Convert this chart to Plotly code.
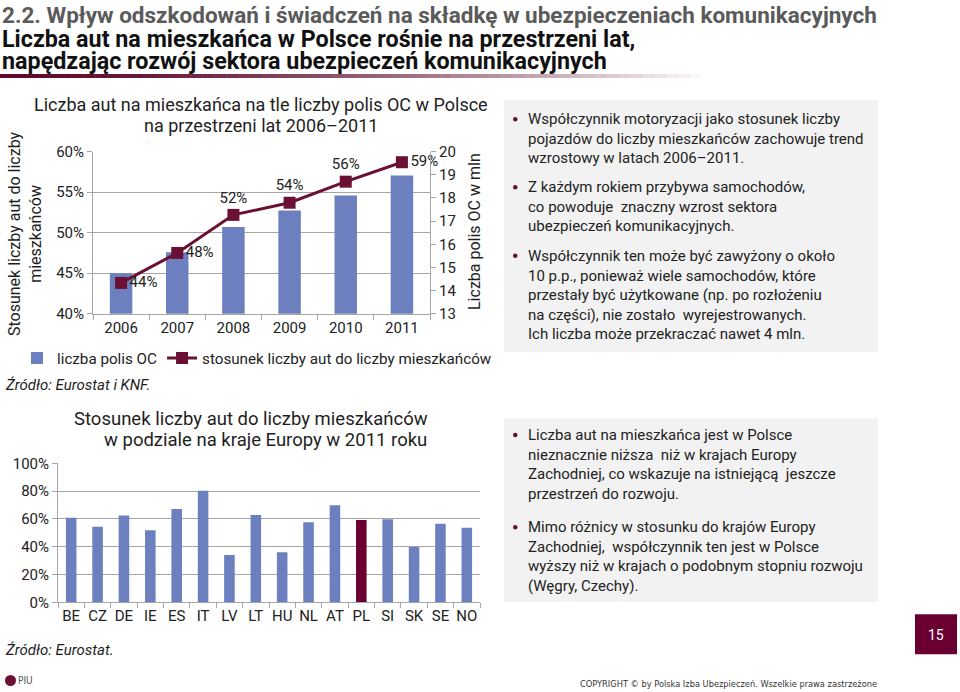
import plotly.graph_objects as go

W, H = 960, 692


def px(x):
    return x / W


def py(y):
    return 1 - y / H


# ---------------- data ----------------
years = ["2006", "2007", "2008", "2009", "2010", "2011"]
polisy_oc_mln = [14.75, 15.66, 16.75, 17.46, 18.11, 18.97]
auta_na_mieszkanca = [0.438, 0.475, 0.522, 0.537, 0.563, 0.587]
auta_labels = ["44%", "48%", "52%", "54%", "56%", "59%"]

countries = ["BE", "CZ", "DE", "IE", "ES", "IT", "LV", "LT", "HU", "NL",
             "AT", "PL", "SI", "SK", "SE", "NO"]
country_ratio = [0.609, 0.544, 0.624, 0.518, 0.671, 0.803, 0.341, 0.628,
                 0.360, 0.576, 0.698, 0.592, 0.597, 0.398, 0.566, 0.537]

left_ticks = [0.40, 0.45, 0.50, 0.55, 0.60]
right_ticks = [13, 14, 15, 16, 17, 18, 19, 20]
eu_ticks = [0, 0.2, 0.4, 0.6, 0.8, 1.0]

# ---------------- style ----------------
BLUE = "#6C7FBE"
MAROON = "#6B1035"
PL_COLOR = "#6A0032"
GRID = "#A6A6A6"
FONT = "Roboto, 'DejaVu Sans', sans-serif"
COND = "'DejaVu Sans Condensed', 'DejaVu Sans', sans-serif"
TXT = "#1E1E1E"

label_pos = ["middle right", "middle right", "top center", "top center",
             "top center", "middle right"]
bar_colors = [PL_COLOR if c == "PL" else BLUE for c in countries]

fig = go.Figure()

# chart 1: bars (right axis, base y) + line (left axis, overlay y2)
fig.add_trace(go.Bar(
    x=years, y=polisy_oc_mln, name="liczba polis OC",
    marker=dict(color=BLUE, line=dict(width=0)), width=0.4,
    xaxis="x", yaxis="y", hoverinfo="x+y"))
fig.add_trace(go.Scatter(
    x=years, y=auta_na_mieszkanca, name="stosunek liczby aut do liczby mieszkańców",
    mode="lines+markers+text", text=auta_labels, textposition=label_pos,
    textfont=dict(family=FONT, size=15, color="#222"),
    line=dict(color=MAROON, width=3),
    marker=dict(symbol="square", size=12, color=MAROON),
    cliponaxis=False, xaxis="x", yaxis="y2"))

# chart 2: countries
fig.add_trace(go.Bar(
    x=countries, y=country_ratio, marker=dict(color=bar_colors, line=dict(width=0)),
    width=0.4, showlegend=False, xaxis="x2", yaxis="y3"))

x1dom = [px(93), px(430)]
y1dom = [py(313.7), py(151.7)]
x2dom = [px(58), px(480)]
y2dom = [py(602.3), py(463.3)]

axis_common = dict(showline=True, linecolor=GRID, linewidth=1, ticks="outside",
                   tickcolor=GRID, ticklen=5, zeroline=False, automargin=False)

fig.update_layout(
    width=W, height=H,
    margin=dict(l=0, r=0, t=0, b=0, pad=0, autoexpand=False),
    paper_bgcolor="white", plot_bgcolor="rgba(0,0,0,0)",
    font=dict(family=FONT, color=TXT),
    xaxis=dict(domain=x1dom, anchor="y", type="category", tickson="boundaries",
               tickfont=dict(family=FONT, size=15, color="#222"), showgrid=False,
               tickangle=0, **axis_common),
    yaxis=dict(domain=y1dom, anchor="x", side="right", range=[13, 20],
               tickvals=right_ticks, showgrid=False,
               tickfont=dict(family=FONT, size=15, color="#222"),
               **axis_common),
    yaxis2=dict(domain=y1dom, anchor="x", overlaying="y", side="left",
                range=[0.40, 0.60], tickvals=left_ticks, tickformat=".0%",
                showgrid=True, gridcolor=GRID, gridwidth=1,
                tickfont=dict(family=FONT, size=15, color="#222"),
                **axis_common),
    xaxis2=dict(domain=x2dom, anchor="y3", type="category", tickson="boundaries",
                tickfont=dict(family=FONT, size=15, color="#222"), showgrid=False,
                tickangle=0, **axis_common),
    yaxis3=dict(domain=y2dom, anchor="x2", range=[0, 1.0], tickvals=eu_ticks,
                tickformat=".0%", showgrid=True, gridcolor=GRID, gridwidth=1,
                tickfont=dict(family=FONT, size=15, color="#222"),
                **axis_common),
    legend=dict(orientation="h", x=px(17), y=py(358), xanchor="left", yanchor="middle",
                font=dict(family=FONT, size=15.2, color="#222"), bgcolor="rgba(0,0,0,0)",
                itemwidth=30, tracegroupgap=0),
    showlegend=True,
)

ann = []
shapes = []


def text(x, y, s, size=15, color=TXT, xanchor="left", yanchor="middle",
         family=FONT, align="left", angle=0):
    ann.append(dict(x=px(x), y=py(y), xref="paper", yref="paper", text=s,
                    showarrow=False, xanchor=xanchor, yanchor=yanchor, align=align,
                    textangle=angle, borderpad=0,
                    font=dict(size=size, color=color, family=family)))


# header
text(1, 15, "<b>2.2. Wpływ odszkodowań i świadczeń na składkę w ubezpieczeniach komunikacyjnych</b>",
     size=22.5, color="#5A5A5A")
text(1, 39.5, "<b>Liczba aut na mieszkańca w Polsce rośnie na przestrzeni lat,</b>", size=23.3, color="#111")
text(1, 61, "<b>napędzając rozwój sektora ubezpieczeń komunikacyjnych</b>", size=23.3, color="#111")

# gradient underline
n = 60
x0, x1 = 0, 714
c0 = (95, 10, 45)
c1 = (255, 255, 255)
for i in range(n):
    t = i / (n - 1)
    tt = t ** 1.6
    col = tuple(int(c0[k] + (c1[k] - c0[k]) * tt) for k in range(3))
    shapes.append(dict(type="rect", xref="paper", yref="paper",
                       x0=px(x0 + (x1 - x0) * i / n), x1=px(x0 + (x1 - x0) * (i + 1) / n + 0.5),
                       y0=py(78), y1=py(74), line=dict(width=0),
                       fillcolor="rgb(%d,%d,%d)" % col))

# chart 1 titles
text(261, 104, "Liczba aut na mieszkańca na tle liczby polis OC w Polsce", size=18, xanchor="center")
text(261, 125, "na przestrzeni lat 2006–2011", size=18, xanchor="center")
text(25, 234, "Stosunek liczby aut do liczby<br>mieszkańców", size=16, xanchor="center",
     angle=-90, align="center")
text(475, 232, "Liczba polis OC w mln", size=16, xanchor="center", angle=-90)
text(4, 385, "<i>Źródło: Eurostat i KNF.</i>", size=15)

# chart 2 titles
text(250.5, 419, "Stosunek liczby aut do liczby mieszkańców", size=18.5, xanchor="center")
text(265.5, 440, "w podziale na kraje Europy w 2011 roku", size=18.5, xanchor="center")
text(4, 650, "<i>Źródło: Eurostat.</i>", size=15)

# text boxes
shapes.append(dict(type="rect", xref="paper", yref="paper", x0=px(504), x1=px(878),
                   y0=py(351.7), y1=py(100), fillcolor="#F2F2F2", line=dict(width=0), layer="below"))
shapes.append(dict(type="rect", xref="paper", yref="paper", x0=px(504), x1=px(878),
                   y0=py(601.7), y1=py(418.3), fillcolor="#F2F2F2", line=dict(width=0), layer="below"))

bullets = [
    (119.3, "Współczynnik motoryzacji jako stosunek liczby<br>pojazdów do liczby mieszkańców zachowuje trend<br>wzrostowy w latach 2006–2011."),
    (187.3, "Z każdym rokiem przybywa samochodów,<br>co powoduje  znaczny wzrost sektora<br>ubezpieczeń komunikacyjnych."),
    (255.7, "Współczynnik ten może być zawyżony o około<br>10 p.p., ponieważ wiele samochodów, które<br>przestały być użytkowane (np. po rozłożeniu<br>na części), nie zostało  wyrejestrowanych.<br>Ich liczba może przekraczać nawet 4 mln."),
    (435.0, "Liczba aut na mieszkańca jest w Polsce<br>nieznacznie niższa  niż w krajach Europy<br>Zachodniej, co wskazuje na istniejącą  jeszcze<br>przestrzeń do rozwoju."),
    (527.3, "Mimo różnicy w stosunku do krajów Europy<br>Zachodniej,  współczynnik ten jest w Polsce<br>wyższy niż w krajach o podobnym stopniu rozwoju<br>(Węgry, Czechy)."),
]
for y, s in bullets:
    ann.append(dict(x=px(527), y=py(y - 10), xref="paper", yref="paper", text=s,
                    showarrow=False, xanchor="left", yanchor="top", align="left",
                    borderpad=0, font=dict(size=15, color="#222", family=FONT)))
    shapes.append(dict(type="circle", xref="paper", yref="paper",
                       x0=px(513), x1=px(517.5), y0=py(y + 2.3), y1=py(y - 2.2),
                       fillcolor=MAROON, line=dict(width=0)))

# page number
shapes.append(dict(type="rect", xref="paper", yref="paper", x0=px(915), x1=px(957),
                   y0=py(654.3), y1=py(614.3), fillcolor=PL_COLOR, line=dict(width=0)))
text(936, 635, "15", size=14, color="white", xanchor="center")

# footer
text(579, 683, "COPYRIGHT © by Polska Izba Ubezpieczeń. Wszelkie prawa zastrzeżone",
     size=9.2, color="#333", family=COND)
shapes.append(dict(type="circle", xref="paper", yref="paper", x0=px(5), x1=px(16),
                   y0=py(686), y1=py(675), fillcolor=MAROON, line=dict(width=0)))
text(17, 680, "PIU", size=10, color="#555", family=COND)

fig.update_layout(annotations=ann, shapes=shapes)
fig.write_html(
    "out.html",
    config={"displayModeBar": False},
    post_script="document.body.style.margin='0';document.body.style.overflow='hidden';",
)
